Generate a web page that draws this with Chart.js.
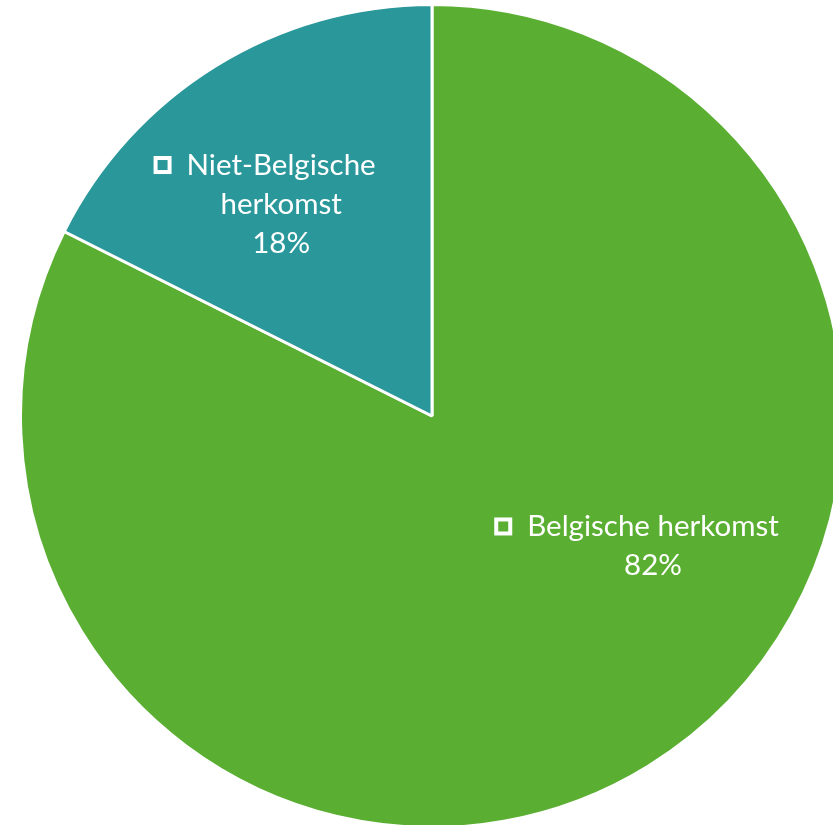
<!DOCTYPE html>
<html>
<head>
<meta charset="utf-8">
<script src="https://cdn.jsdelivr.net/npm/chart.js@4.4.1/dist/chart.umd.min.js"></script>
<style>
html,body{margin:0;padding:0;background:#fff;overflow:hidden;width:833px;height:825px;}
#wrap{position:absolute;left:0;top:0;width:864px;height:832px;}
</style>
</head>
<body>
<div id="wrap"><canvas id="c" width="864" height="832"></canvas></div>
<script>
const categories = ["Belgische herkomst", "Niet-Belgische herkomst"];
const labelLines = [["Belgische herkomst"], ["Niet-Belgische", "herkomst"]];
const shares = [82.4, 17.6];
const colors = ["#5AAF32", "#2A979B"];

// label anchors in units of the outer radius, relative to the pie centre
const labelAnchors = [[0.539, 0.317], [-0.368, -0.517]];

const labelPlugin = {
  id: 'pieLabels',
  afterDatasetsDraw(chart) {
    const ctx = chart.ctx;
    const meta = chart.getDatasetMeta(0);
    const total = shares.reduce((a, b) => a + b, 0);
    ctx.save();
    ctx.font = '29.5px Lato';
    ctx.fillStyle = '#fff';
    ctx.textBaseline = 'middle';
    ctx.textAlign = 'center';
    meta.data.forEach((arc, i) => {
      const r = 410;
      const cx = arc.x + labelAnchors[i][0] * r;
      const cy = arc.y + labelAnchors[i][1] * r;
      const lines = labelLines[i].concat([Math.round(shares[i] / total * 100) + '%']);
      const lh = 39;
      const y0 = cy - (lines.length - 1) * lh / 2;
      lines.forEach((t, k) => {
        ctx.fillText(t, cx, y0 + k * lh);
      });
      // legend key square before first line
      const w = ctx.measureText(lines[0]).width;
      const sx = cx - w / 2 - 33;
      ctx.lineWidth = 4;
      ctx.strokeStyle = '#fff';
      ctx.strokeRect(sx + 2, y0 - 9 + 2, 14, 14);
    });
    ctx.restore();
  }
};

new Chart(document.getElementById('c'), {
  type: 'pie',
  data: {
    labels: categories,
    datasets: [{
      data: shares,
      backgroundColor: colors,
      borderColor: '#ffffff',
      borderWidth: 3
    }]
  },
  options: {
    responsive: false,
    devicePixelRatio: 1,
    animation: false,
    layout: { padding: 3 },
    plugins: { legend: { display: false }, tooltip: { enabled: false } }
  },
  plugins: [labelPlugin]
});
</script>
</body>
</html>
